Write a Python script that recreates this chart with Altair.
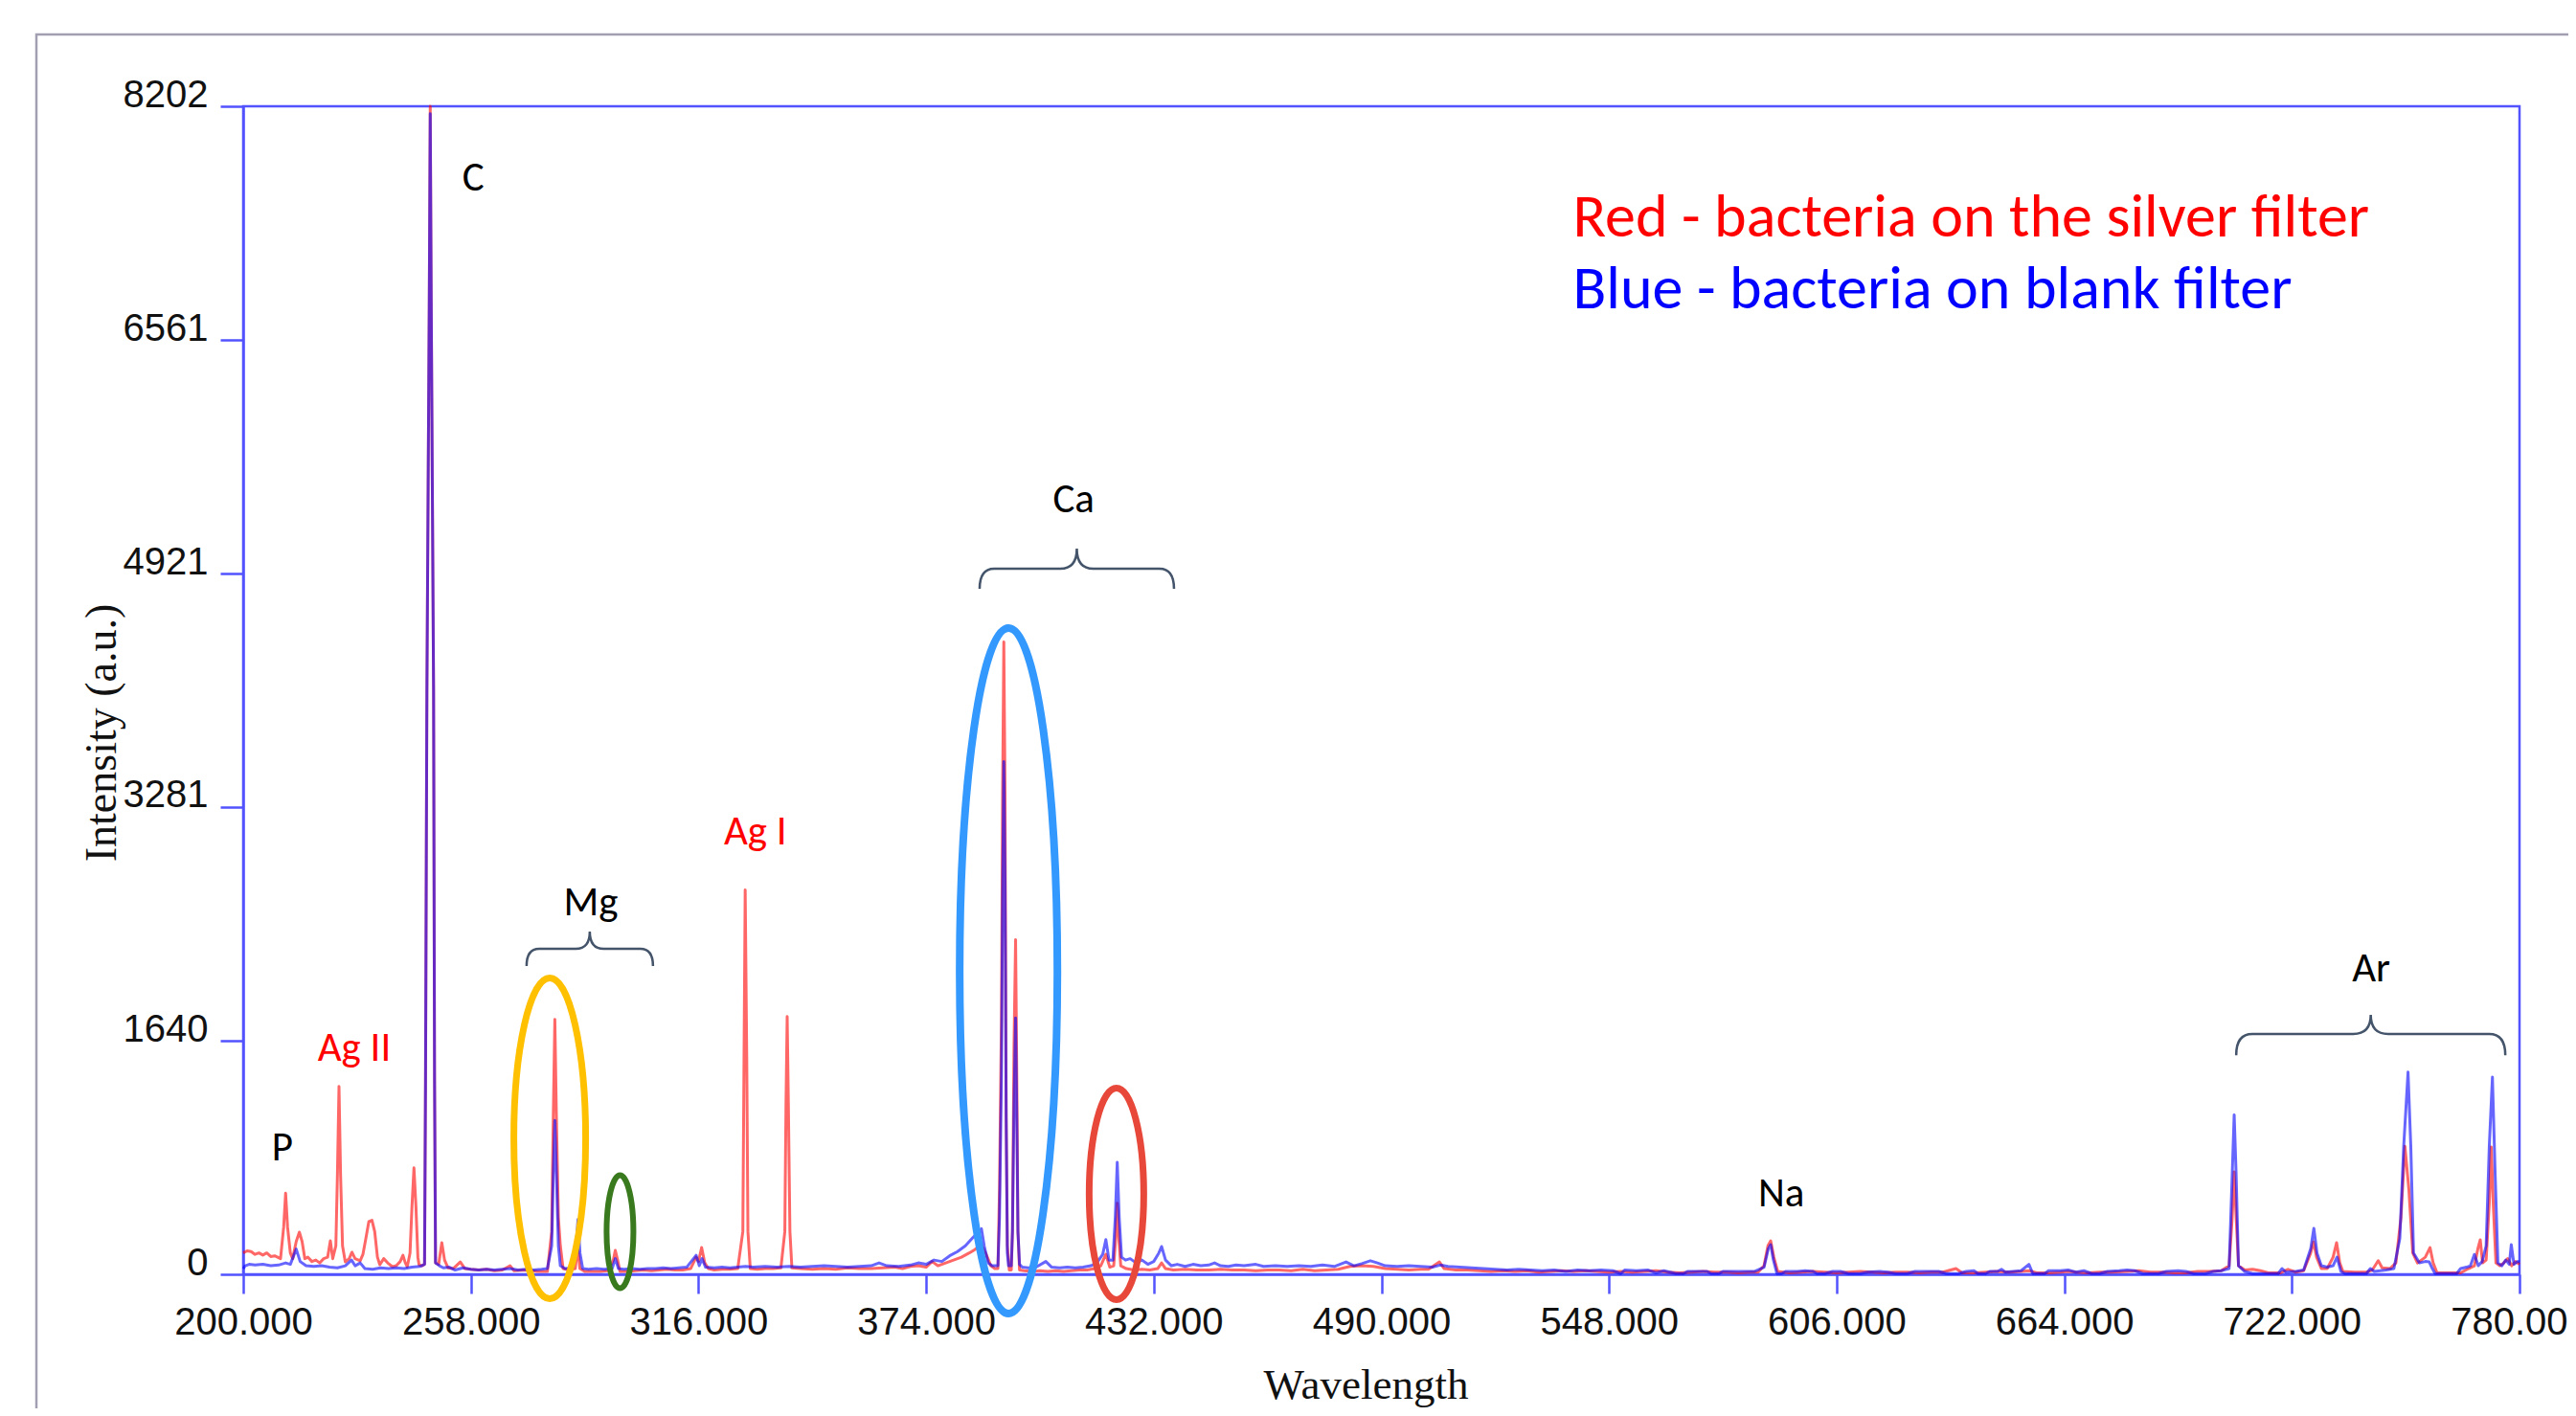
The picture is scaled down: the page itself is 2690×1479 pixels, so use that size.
import altair as alt
import pandas as pd

# ---------------- data ----------------
red_wl = [200.0, 201.0, 202.0, 203.0, 204.0, 205.0, 206.0, 207.0, 208.0, 209.5, 210.3, 210.8, 211.3, 212.0, 212.6,
          213.5, 214.3, 215.0, 215.7, 216.5, 217.5, 218.5, 219.5, 220.5, 221.5, 222.2, 222.8, 223.6, 224.0, 224.4,
          224.8, 225.3, 226.0, 227.0, 227.7, 228.5, 229.8, 230.5, 231.3, 232.0, 232.8, 233.5, 234.2, 234.8, 235.8,
          236.8, 238.0, 239.0, 240.0, 240.7, 241.3, 241.8, 242.5, 243.0, 243.5, 244.0, 244.5, 244.8, 245.6, 246.2,
          246.45, 246.8, 247.4, 247.65, 247.9, 248.5, 248.75, 249.0, 249.8, 250.6, 251.3, 252.2, 253.5, 255.3, 256.5,
          258.0, 260.0, 262.0, 264.0, 266.0, 268.0, 269.0, 272.0, 275.0, 277.5, 278.6, 279.0, 279.4, 279.8, 280.3,
          280.8, 281.5, 283.0, 284.6, 285.2, 285.8, 287.0, 289.0, 291.0, 293.0, 294.3, 294.8, 295.4, 296.0, 298.0,
          300.0, 302.0, 304.0, 306.0, 308.0, 310.0, 312.0, 314.0, 315.4, 316.0, 316.8, 317.6, 318.5, 320.0, 322.0,
          324.0, 326.0, 327.3, 327.6, 327.9, 328.3, 328.6, 329.2, 331.0, 333.0, 335.0, 337.0, 338.0, 338.3, 338.6,
          338.9, 339.3, 339.8, 342.0, 345.0, 348.0, 351.0, 354.0, 357.0, 360.0, 363.0, 366.0, 368.0, 370.0, 372.0,
          374.0, 375.5, 377.0, 379.0, 381.0, 383.0, 385.0, 386.5, 388.0, 389.3, 390.5, 391.5, 392.3, 392.7, 393.2,
          393.5, 393.8, 394.1, 394.4, 394.7, 395.2, 395.7, 396.0, 396.4, 396.8, 397.1, 397.4, 397.8, 399.0, 401.0,
          403.0, 405.0, 407.0, 409.0, 411.0, 413.0, 415.0, 417.0, 418.5, 419.8, 420.8, 421.8, 422.3, 422.7, 423.1,
          423.6, 425.0, 427.0, 429.0, 431.0, 433.0, 434.0, 435.0, 437.0, 440.0, 443.0, 446.0, 449.0, 452.0, 455.0,
          458.0, 461.0, 464.0, 467.0, 470.0, 473.0, 476.0, 479.0, 482.0, 485.0, 488.0, 491.0, 494.0, 497.0, 500.0,
          502.0, 504.8, 506.0, 509.0, 512.0, 515.0, 518.0, 521.0, 524.0, 527.0, 530.0, 533.0, 536.0, 539.0, 542.0,
          545.0, 548.0, 551.0, 554.0, 557.0, 560.0, 563.0, 566.0, 569.0, 572.0, 575.0, 578.0, 581.0, 584.0, 586.0,
          587.5, 588.5, 589.2, 590.0, 591.0, 594.0, 597.0, 600.0, 603.0, 606.0, 609.0, 612.0, 615.0, 618.0, 621.0,
          624.0, 627.0, 630.0, 633.0, 636.4, 638.0, 641.0, 644.0, 647.0, 650.0, 653.0, 655.0, 657.0, 660.0, 663.0,
          665.0, 667.0, 670.0, 673.0, 676.0, 680.0, 683.0, 686.0, 689.0, 692.0, 695.0, 698.0, 701.0, 704.0, 706.0,
          706.8, 707.3, 707.8, 708.4, 710.0, 712.0, 714.0, 716.0, 719.0, 721.0, 723.0, 725.0, 726.8, 727.5, 728.3,
          729.5, 731.0, 732.5, 733.4, 734.2, 735.0, 738.0, 741.0, 742.5, 744.0, 745.0, 747.0, 748.5, 749.8, 750.8,
          751.8, 752.8, 754.0, 756.0, 757.2, 758.0, 759.0, 762.0, 765.0, 767.0, 768.5, 769.4, 770.0, 770.6, 771.5,
          772.3, 772.8, 773.3, 774.0, 775.0, 776.0, 777.0, 778.0, 779.0, 780.0]
red_int = [150, 165, 160, 140, 150, 135, 150, 125, 130, 110, 330, 570, 330, 150, 110,
           230, 296, 230, 110, 120, 90, 100, 80, 110, 120, 235, 110, 200, 700, 1320,
           700, 200, 87, 110, 155, 110, 95, 140, 260, 370, 379, 300, 120, 67, 110,
           80, 54, 60, 90, 134, 80, 54, 150, 480, 748, 480, 120, 67, 60, 70,
           1360, 4100, 6820, 8202, 6820, 4100, 1360, 80, 70, 222, 100, 45, 40, 87, 40,
           35, 30, 35, 25, 30, 60, 25, 30, 20, 20, 300, 1100, 1790, 1100, 400,
           200, 40, 30, 40, 190, 40, 20, 20, 20, 25, 100, 168, 100, 20, 20,
           25, 30, 25, 30, 35, 30, 30, 40, 120, 90, 188, 80, 40, 30, 35,
           35, 40, 300, 1500, 2700, 1500, 300, 40, 35, 40, 40, 45, 300, 1200, 1810,
           1200, 300, 45, 40, 35, 40, 35, 45, 40, 40, 45, 50, 40, 55, 60,
           50, 90, 60, 80, 100, 120, 150, 175, 210, 140, 60, 40, 40, 600, 1800,
           3400, 4440, 3400, 1100, 200, 30, 30, 300, 1600, 2350, 1400, 300, 30, 25, 20,
           25, 20, 25, 20, 25, 30, 30, 40, 60, 140, 50, 60, 250, 500, 250,
           60, 40, 30, 35, 30, 40, 80, 40, 30, 35, 30, 30, 35, 30, 30,
           25, 30, 30, 25, 35, 25, 30, 35, 55, 60, 55, 40, 35, 30, 35,
           35, 87, 40, 30, 30, 25, 20, 25, 20, 25, 15, 20, 25, 20, 25,
           20, 15, 20, 15, 20, 25, 15, 10, 15, 20, 15, 15, 10, 15, 15,
           60, 200, 235, 120, 20, 10, 15, 20, 15, 10, 15, 20, 15, 10, 15,
           15, 10, 15, 15, 40, 10, 10, 15, 20, 15, 20, 25, 10, 10, 15,
           20, 15, 10, 15, 15, 20, 25, 15, 15, 10, 10, 20, 20, 25, 60,
           400, 720, 400, 60, 30, 35, 25, 10, 10, 35, 15, 25, 150, 229, 120,
           40, 40, 120, 222, 80, 20, 15, 15, 30, 96, 45, 40, 80, 400, 900,
           600, 150, 80, 120, 188, 80, 10, 10, 10, 40, 60, 180, 242, 80, 100,
           500, 894, 500, 80, 60, 80, 110, 60, 90, 70]

blue_wl = [200.0, 200.5, 201.5, 203.0, 205.0, 207.0, 209.0, 210.8, 212.0, 213.5, 214.5, 216.0, 218.0, 220.0, 222.0,
           224.0, 226.0, 227.6, 228.5, 229.8, 231.0, 233.0, 235.0, 237.0, 239.0, 241.0, 243.0, 245.0, 246.2, 246.45,
           246.8, 247.4, 247.65, 247.9, 248.5, 248.75, 249.0, 250.0, 251.0, 252.5, 254.0, 256.0, 258.0, 260.0, 262.0,
           264.0, 266.0, 268.0, 270.0, 272.0, 274.0, 276.0, 277.5, 278.6, 279.0, 279.4, 279.8, 280.3, 280.8, 282.0,
           284.0, 284.8, 285.3, 285.8, 286.5, 288.0, 290.0, 292.0, 294.0, 294.8, 295.6, 297.0, 299.0, 301.0, 303.0,
           305.0, 307.0, 309.0, 311.0, 313.0, 315.4, 316.2, 316.9, 317.8, 320.0, 322.0, 324.0, 326.0, 328.0, 330.0,
           333.0, 336.0, 339.0, 342.0, 345.0, 348.0, 351.0, 354.0, 357.0, 360.0, 362.0, 364.0, 367.0, 370.0, 372.0,
           374.0, 376.0, 378.0, 380.0, 382.0, 384.0, 386.0, 387.5, 388.1, 388.8, 389.8, 390.8, 391.8, 392.3, 392.7,
           393.2, 393.5, 393.8, 394.1, 394.4, 394.7, 395.0, 395.7, 396.0, 396.4, 396.8, 397.1, 397.4, 397.8, 398.5,
           400.0, 402.0, 404.5, 406.0, 408.0, 410.0, 412.0, 414.0, 416.0, 417.5, 419.0, 419.8, 420.6, 421.6, 422.2,
           422.7, 423.2, 423.8, 424.8, 426.0, 427.5, 429.0, 430.5, 432.0, 433.3, 434.0, 435.0, 436.5, 438.0, 440.0,
           442.0, 444.0, 446.0, 447.5, 449.0, 451.0, 453.0, 455.0, 458.0, 460.0, 463.0, 466.0, 469.0, 472.0, 475.0,
           478.0, 481.0, 483.0, 485.0, 487.2, 489.0, 491.0, 494.0, 497.0, 500.0, 503.0, 505.0, 507.0, 510.0, 513.0,
           516.0, 519.0, 522.0, 525.0, 528.0, 531.0, 534.0, 537.0, 540.0, 543.0, 546.0, 549.0, 551.0, 552.0, 555.0,
           558.0, 560.0, 562.0, 565.0, 567.0, 568.0, 571.0, 573.0, 574.0, 576.0, 577.0, 580.0, 583.0, 585.0, 587.5,
           588.6, 589.2, 589.9, 590.8, 592.0, 593.0, 596.0, 598.0, 600.0, 601.0, 603.0, 605.0, 607.0, 609.0, 612.0,
           614.0, 617.0, 619.0, 621.0, 624.0, 626.0, 629.0, 632.0, 634.0, 637.0, 639.0, 641.0, 642.0, 644.0, 645.0,
           647.0, 648.0, 649.0, 651.0, 653.0, 655.0, 656.0, 659.0, 660.0, 663.0, 665.0, 667.0, 669.0, 671.0, 673.0,
           675.0, 678.0, 680.0, 682.0, 684.0, 688.0, 690.0, 693.0, 695.0, 697.0, 700.0, 702.0, 704.0, 706.0, 706.8,
           707.3, 707.8, 708.4, 710.0, 712.0, 716.0, 718.5, 719.5, 720.5, 723.0, 725.0, 726.8, 727.6, 728.4, 729.5,
           731.0, 732.5, 733.5, 734.5, 735.5, 741.0, 742.0, 743.0, 746.0, 748.0, 749.5, 750.5, 751.6, 752.3, 753.0,
           754.5, 756.0, 757.0, 757.8, 758.5, 764.0, 765.0, 766.5, 767.5, 768.5, 769.5, 770.5, 771.5, 772.3, 773.1,
           773.8, 774.5, 775.5, 776.5, 777.4, 777.9, 778.6, 779.5, 780.0]
blue_int = [40, 60, 70, 65, 70, 60, 65, 80, 70, 177, 90, 60, 55, 60, 50,
            45, 60, 100, 60, 80, 40, 35, 45, 40, 45, 40, 50, 55, 70, 1360,
            4100, 6820, 8150, 6820, 4100, 1360, 80, 60, 45, 50, 30, 45, 35, 30, 35,
            30, 35, 40, 30, 35, 30, 35, 40, 200, 700, 1080, 700, 200, 60, 40,
            45, 200, 385, 150, 40, 35, 40, 35, 40, 110, 40, 35, 40, 35, 40,
            40, 45, 40, 45, 50, 134, 60, 110, 50, 45, 50, 45, 50, 55, 50,
            55, 50, 55, 50, 55, 60, 55, 50, 55, 60, 80, 60, 55, 65, 80,
            70, 100, 90, 130, 160, 200, 260, 300, 320, 200, 80, 60, 60, 60, 400,
            1400, 2700, 3600, 2800, 1100, 150, 60, 60, 300, 1200, 1800, 1100, 300, 70, 50,
            45, 50, 90, 50, 45, 50, 45, 50, 60, 80, 140, 244, 100, 100, 400,
            787, 400, 120, 100, 110, 80, 100, 70, 90, 150, 195, 100, 60, 70, 55,
            70, 60, 65, 80, 60, 55, 65, 60, 70, 55, 60, 55, 60, 55, 65,
            55, 87, 60, 75, 95, 80, 60, 55, 60, 55, 50, 65, 55, 50, 45,
            40, 35, 30, 35, 30, 25, 30, 20, 30, 25, 30, 25, 5, 30, 25,
            30, 10, 25, 5, 5, 20, 20, 20, 5, 5, 20, 20, 20, 20, 50,
            180, 208, 100, 5, 5, 20, 20, 25, 20, 5, 5, 20, 20, 5, 5,
            15, 20, 15, 5, 5, 20, 20, 20, 5, 5, 20, 25, 5, 5, 20,
            20, 35, 15, 20, 25, 70, 5, 5, 25, 25, 30, 15, 25, 5, 5,
            20, 25, 30, 25, 5, 5, 20, 25, 20, 5, 5, 20, 25, 40, 700,
            1120, 700, 60, 20, 5, 5, 5, 40, 15, 20, 30, 180, 323, 150, 60,
            50, 60, 121, 20, 5, 5, 40, 20, 30, 40, 250, 900, 1420, 900, 150,
            80, 90, 87, 40, 5, 5, 40, 50, 60, 140, 60, 90, 200, 900, 1385,
            700, 80, 60, 100, 70, 208, 70, 90, 87]

x_ticks = [200, 258, 316, 374, 432, 490, 548, 606, 664, 722, 780]
y_ticks = [0, 1640, 3281, 4921, 6561, 8202]

# element labels (wavelength, intensity where the text sits)
label_text = ["C", "P", "Ag II", "Mg", "Ag I", "Ca", "Na", "Ar"]
label_wl = [258.6, 210.0, 228.3, 288.6, 330.5, 411.6, 591.9, 742.2]
label_int = [7610, 800, 1499, 2521, 3019, 5352, 477, 2057]
label_color = ["#000000", "#000000", "#ff0000", "#000000", "#ff0000", "#000000", "#000000", "#000000"]

legend_text = ["Red - bacteria on the silver filter", "Blue - bacteria on blank filter"]
legend_wl = [538.8, 538.8]
legend_int = [7288, 6783]
legend_color = ["#ff0000", "#0000ff"]

# highlighted peaks (ellipse centres)
ellipse_wl = [278.1, 296.0, 395.0, 422.5]
ellipse_int = [955, 299, 2131, 565]

# bracketed groups (brace centres)
brace_wl = [288.3, 412.4, 742.1]
brace_int = [2286, 4955, 1687]

# ---------------- styles ----------------
W, H = 2377, 1220
AXIS_BLUE = "#5252ff"
ANNOT_FONT = "Carlito, Lato, sans-serif"

xscale = alt.Scale(domain=[200, 780], nice=False, zero=False)
yscale = alt.Scale(domain=[0, 8202], nice=False, zero=False)

x_axis = alt.Axis(values=x_ticks, format=".3f", title="Wavelength", grid=False,
                  labelFont="Liberation Sans", labelFontSize=40, labelColor="#111111",
                  labelBaseline="alphabetic", labelPadding=42, labelFlush=False, labelOverlap=False,
                  tickSize=20, tickWidth=2.5, tickColor=AXIS_BLUE, domainColor=AXIS_BLUE, domainWidth=2.5,
                  titleFont="Liberation Serif", titleFontSize=45, titleFontWeight="normal",
                  titleColor="#111111", titleX=1172, titleY=129, titleBaseline="alphabetic",
                  titleAlign="center")
y_axis = alt.Axis(values=y_ticks, format="d", title="Intensity (a.u.)", grid=False,
                  labelFont="Liberation Sans", labelFontSize=40, labelColor="#111111",
                  labelBaseline="alphabetic", labelPadding=13, labelFlush=False, labelOverlap=False,
                  tickSize=24, tickWidth=2.5, tickColor=AXIS_BLUE, domainColor=AXIS_BLUE, domainWidth=2.5,
                  titleFont="Liberation Serif", titleFontSize=46, titleFontWeight="normal",
                  titleColor="#111111", titleAngle=270, titleX=-134, titleY=654,
                  titleBaseline="alphabetic", titleAlign="center")

red_df = pd.DataFrame({"wl": red_wl, "inten": red_int})
blue_df = pd.DataFrame({"wl": blue_wl, "inten": blue_int})

red_line = alt.Chart(red_df).mark_line(color="#ff0000", opacity=0.6, strokeWidth=3,
                                       strokeJoin="round").encode(
    x=alt.X("wl:Q", scale=xscale, axis=x_axis),
    y=alt.Y("inten:Q", scale=yscale, axis=y_axis),
    order="wl:Q")
blue_line = alt.Chart(blue_df).mark_line(color="#0000ff", opacity=0.6, strokeWidth=3,
                                         strokeJoin="round").encode(
    x=alt.X("wl:Q", scale=xscale), y=alt.Y("inten:Q", scale=yscale), order="wl:Q")

# outer grey frame of the figure
frame = alt.Chart(pd.DataFrame({"a": [0]})).mark_rect(
    fillOpacity=0, stroke="#a39fb3", strokeWidth=2.5).encode(
    x=alt.value(-216), y=alt.value(-75), x2=alt.value(3200), y2=alt.value(3200))


def ellipse_path(a):
    k = 0.5523
    return (f"M0,-1 C{k*a:.4f},-1 {a:.4f},{-k:.4f} {a:.4f},0 "
            f"C{a:.4f},{k:.4f} {k*a:.4f},1 0,1 "
            f"C{-k*a:.4f},1 {-a:.4f},{k:.4f} {-a:.4f},0 "
            f"C{-a:.4f},{-k:.4f} {-k*a:.4f},-1 0,-1 Z")


def brace_path(e, t, ce, ct):
    return (f"M-1,{e} Q-1,0 {-1+ce},0 L{-ct},0 Q0,0 0,{t} Q0,0 {ct},0 "
            f"L{1-ce},0 Q1,0 1,{e}")


# (width px, height px, colour, stroke width)
ellipse_style = [(75, 335, "#ffc000", 7), (28, 118, "#3a7a1e", 6),
                 (102, 716, "#3399ff", 8), (57, 221, "#e8483a", 7)]
# (half width px, end drop, tip rise, end curve, tip curve) in half-width units
brace_style = [(66, 0.273, -0.273, 0.2, 0.22), (101.5, 0.207, -0.207, 0.15, 0.17),
               (140.5, 0.157, -0.142, 0.12, 0.13)]

layers = [frame, red_line, blue_line]

for wl, it, (w, h, col, sw) in zip(ellipse_wl, ellipse_int, ellipse_style):
    layers.append(alt.Chart(pd.DataFrame({"wl": [wl], "inten": [it]})).mark_point(
        shape=ellipse_path(w / h), size=h * h, filled=False, color=col, opacity=1,
        strokeWidth=sw).encode(x=alt.X("wl:Q", scale=xscale), y=alt.Y("inten:Q", scale=yscale)))

for wl, it, (hw, e, t, ce, ct) in zip(brace_wl, brace_int, brace_style):
    layers.append(alt.Chart(pd.DataFrame({"wl": [wl], "inten": [it]})).mark_point(
        shape=brace_path(e, t, ce, ct), size=(2 * hw) ** 2, filled=False, color="#44546a",
        opacity=1, strokeWidth=2.5).encode(
        x=alt.X("wl:Q", scale=xscale), y=alt.Y("inten:Q", scale=yscale)))

labels_df = pd.DataFrame({"t": label_text, "wl": label_wl, "inten": label_int, "c": label_color})
labels = alt.Chart(labels_df).mark_text(font=ANNOT_FONT, fontSize=43, align="center",
                                        baseline="alphabetic").encode(
    x=alt.X("wl:Q", scale=xscale), y=alt.Y("inten:Q", scale=yscale),
    text="t:N", color=alt.Color("c:N", scale=None))

legend_df = pd.DataFrame({"t": legend_text, "wl": legend_wl, "inten": legend_int, "c": legend_color})
legend = alt.Chart(legend_df).mark_text(font=ANNOT_FONT, fontSize=64, align="left",
                                        baseline="alphabetic").encode(
    x=alt.X("wl:Q", scale=xscale), y=alt.Y("inten:Q", scale=yscale),
    text="t:N", color=alt.Color("c:N", scale=None))

layers += [labels, legend]

chart = alt.layer(*layers).properties(
    width=W, height=H,
    autosize=alt.AutoSizeParams(type="none"),
    padding={"left": 246, "top": 103, "right": 51, "bottom": 140},
    background="white",
).configure_view(stroke=AXIS_BLUE, strokeWidth=2.5)

chart.save("out.html", embed_options={"renderer": "svg", "actions": False})
